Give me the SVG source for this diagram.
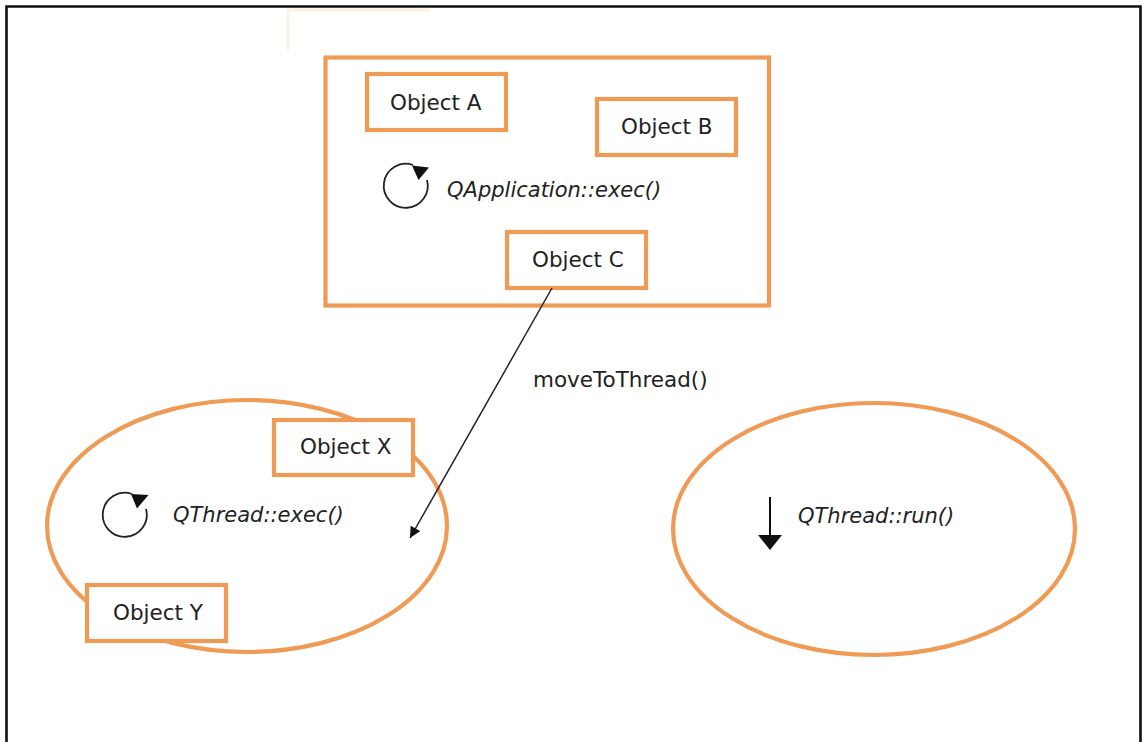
<svg xmlns="http://www.w3.org/2000/svg" width="1143" height="742" viewBox="0 0 1143 742">
  <style>
    .frame { fill: none; stroke: #111; stroke-width: 2.6; }
    .box { fill: #fff; stroke: #ef9a55; stroke-width: 4.2; }
    .oval { fill: #fff; stroke: #ef9a55; stroke-width: 4.2; }
    .label { font-family: "DejaVu Sans", Verdana, sans-serif; font-size: 21.5px; fill: #222; }
    .method { font-family: "DejaVu Sans", Verdana, sans-serif; font-size: 21px; font-style: italic; fill: #222; }
    .loop { fill: none; stroke: #222; stroke-width: 1.8; }
    .link { fill: none; stroke: #222; stroke-width: 1.5; }
    .ghost { fill: none; stroke: #fdf0e5; stroke-width: 3; }
  </style>
  <defs>
    <marker id="head" viewBox="0 0 10 10" refX="10" refY="5" markerWidth="12" markerHeight="11" markerUnits="userSpaceOnUse" orient="auto">
      <path d="M0,0 L10,5 L0,10 z" fill="#111"/>
    </marker>
  </defs>

  <rect width="1143" height="742" fill="#fff"/>

  <!-- outer frame, open at the bottom -->
  <path class="frame" d="M6.5,745 V6.5 H1140.5 V745"/>

  <!-- faint leftover edge near the top -->
  <path class="ghost" d="M288,50 V10 H430"/>

  <!-- main thread -->
  <g id="main-thread">
    <rect class="box" x="325.5" y="57.5" width="443.5" height="248"/>
    <g id="app-loop">
      <path class="loop" d="M413,165 A22,22 0 1,0 427,180"/>
      <path d="M412,165.5 L429,167.5 L418.5,180 z" fill="#111"/>
      <text class="method" x="447" y="197">QApplication::exec()</text>
    </g>
  </g>

  <g id="object-a">
    <rect class="box" x="367" y="74" width="139" height="56"/>
    <text class="label" x="390" y="110">Object A</text>
  </g>
  <g id="object-b">
    <rect class="box" x="597" y="99" width="139" height="56"/>
    <text class="label" x="621" y="134">Object B</text>
  </g>
  <g id="object-c">
    <rect class="box" x="507" y="232" width="139" height="56"/>
    <text class="label" x="532" y="267">Object C</text>
  </g>

  <!-- worker thread with its own event loop -->
  <g id="worker-thread">
    <ellipse class="oval" cx="247" cy="526" rx="200" ry="126"/>
    <g id="thread-loop">
      <path class="loop" d="M132,494 A22,22 0 1,0 146,509"/>
      <path d="M131,494 L148.5,495 L137,508.5 z" fill="#111"/>
      <text class="method" x="173" y="522">QThread::exec()</text>
    </g>
  </g>
  <g id="object-x">
    <rect class="box" x="274" y="420" width="139" height="55"/>
    <text class="label" x="300" y="454">Object X</text>
  </g>
  <g id="object-y">
    <rect class="box" x="87" y="585" width="139" height="56"/>
    <text class="label" x="113" y="620">Object Y</text>
  </g>

  <!-- thread running run() only -->
  <g id="run-thread">
    <ellipse class="oval" cx="874" cy="529" rx="201" ry="126"/>
    <line x1="770" y1="497" x2="770" y2="537" stroke="#111" stroke-width="2"/>
    <path d="M758,535 L782,535 L770,550 z" fill="#111"/>
    <text class="method" x="798" y="523">QThread::run()</text>
  </g>

  <!-- connectors -->
  <g id="connectors">
    <line class="link" x1="552" y1="288" x2="410" y2="538" marker-end="url(#head)"/>
    <text class="label" x="533" y="387">moveToThread()</text>
  </g>
</svg>
